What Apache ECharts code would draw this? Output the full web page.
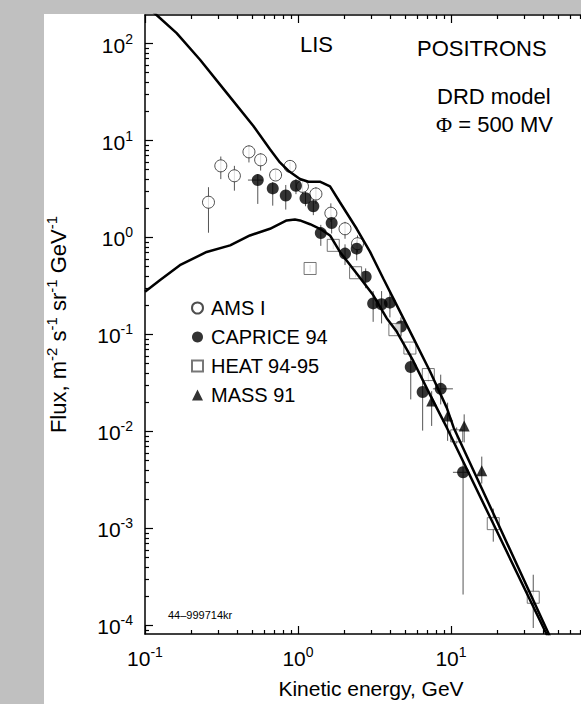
<!DOCTYPE html>
<html>
<head>
<meta charset="utf-8">
<title>Positrons, LIS, DRD model</title>
<script src="https://cdn.jsdelivr.net/npm/echarts@6/dist/echarts.min.js"></script>
<style>
html, body { margin: 0; padding: 0; background: #c0c0c0; }
#chart { width: 581px; height: 704px; }
</style>
</head>
<body>
<div id="chart"></div>
<script>
// energies in GeV, flux in m^-2 s^-1 sr^-1 GeV^-1

// model curves
const lisE = [0.100, 0.119, 0.161, 0.229, 0.342, 0.511, 0.656, 0.762, 0.865, 1.03, 1.17, 1.39, 1.62, 1.88, 2.42, 2.96, 3.61, 4.42, 5.68, 7.29, 9.38, 10.4, 19.4, 43.3, 56.2]
const lisFlux = [253, 197, 128, 68.1, 31.0, 14.1, 8.13, 5.94, 4.88, 4.01, 3.76, 3.76, 3.36, 2.31, 1.23, 0.710, 0.378, 0.201, 0.0918, 0.0418, 0.0176, 0.0110, 0.00131, 8.34e-5, 3.38e-5]
const modE = [0.100, 0.125, 0.169, 0.253, 0.360, 0.485, 0.656, 0.843, 0.955, 1.03, 1.20, 1.39, 1.62, 1.88, 2.42, 3.10, 3.80, 4.42, 5.68, 7.29, 9.38, 18.0, 41.8, 56.2]
const modFlux = [0.276, 0.363, 0.518, 0.710, 0.830, 1.05, 1.23, 1.50, 1.53, 1.50, 1.37, 1.23, 1.05, 0.710, 0.426, 0.255, 0.147, 0.107, 0.0530, 0.0240, 0.0110, 0.00131, 8.34e-5, 3.16e-5]

// AMS I
const amsE = [0.26, 0.313, 0.384, 0.478, 0.570, 0.714, 0.887, 1.07, 1.31, 1.64, 2.03, 2.45]
const amsFlux = [2.31, 5.48, 4.33, 7.64, 6.32, 4.41, 5.41, 3.37, 2.81, 1.78, 1.23, 0.863]
const amsLo = [1.12, 4.0, 3.04, 5.94, 4.9, 3.9, 4.9, 2.81, 2.22, 1.45, 0.97, 0.70]
const amsHi = [3.3, 6.84, 5.48, 8.9, 7.4, 5.0, 6.0, 3.9, 3.3, 2.25, 1.45, 1.05]

// CAPRICE 94
const capE = [0.546, 0.684, 0.832, 0.970, 1.12, 1.26, 1.41, 1.66, 2.03, 2.42, 2.77, 3.10, 3.52, 3.99, 4.71, 5.46, 6.53, 8.57, 12.0]
const capFlux = [3.91, 3.21, 2.71, 3.42, 2.54, 2.10, 1.11, 1.41, 0.682, 0.767, 0.394, 0.209, 0.205, 0.213, 0.121, 0.0462, 0.0255, 0.0275, 0.00379]
const capLo = [2.22, 2.13, 1.94, 2.8, 2.1, 1.7, 0.82, 1.1, 0.52, 0.58, 0.30, 0.135, 0.13, 0.15, 0.095, 0.0214, 0.0102, 0.019, 2.08e-4]
const capHi = [4.5, 3.73, 3.48, 4.0, 3.0, 2.5, 1.35, 1.7, 0.85, 0.95, 0.48, 0.28, 0.28, 0.28, 0.15, 0.065, 0.034, 0.0385, 0.0050]
const capELo = [0.471, null, null, null, null, null, null, null, null, null, null, null, null, null, null, null, null, 7.62, 10.3]
const capEHi = [0.590, null, null, null, null, null, null, null, null, null, null, null, null, null, null, null, null, 10.3, 13.3]

// HEAT 94-95
const heatE = [1.20, 1.70, 2.38, 4.30, 5.39, 7.11, 10.9, 18.9, 34.5]
const heatFlux = [0.479, 0.830, 0.433, 0.112, 0.0724, 0.0386, 0.00901, 0.00112, 1.95e-4]
const heatLo = [0.44, 0.76, 0.39, 0.10, 0.065, 0.033, 0.0075, 7.3e-4, 9.4e-5]
const heatHi = [0.52, 0.90, 0.48, 0.125, 0.080, 0.045, 0.011, 1.6e-3, 3.33e-4]

// MASS 91
const massE = [7.48, 9.51, 12.2, 15.9]
const massFlux = [0.0206, 0.0144, 0.0114, 0.00394]
const massLo = [0.0114, 0.0080, 0.0077, 0.0029]
const massHi = [0.026, 0.0198, 0.015, 0.0055]

// axes (the frame is cut by the right edge of the picture, near 70 GeV)
const eMin = 0.1, eMax = 70.8
const fluxMin = 8.15e-5, fluxMax = 197
const xTickExp = [-1, 0, 1]
const yTickExp = [-4, -3, -2, -1, 0, 1, 2]

const lg = v => Math.log10(v)
const FONT = '"Liberation Sans", Arial, Helvetica, sans-serif'

function pairs (xs, ys) {
  return xs.map((x, i) => [lg(x), lg(ys[i])])
}

function minorTicks (lo, hi) {
  const out = []
  for (let d = Math.floor(lo); d <= Math.ceil(hi); d++) {
    for (let k = 2; k <= 9; k++) {
      const v = d + Math.log10(k)
      if (v > lo && v < hi) out.push(v)
    }
  }
  return out
}

const xLo = lg(eMin), xHi = lg(eMax)
const yLo = lg(fluxMin), yHi = lg(fluxMax)

const tickRich = {
  b: { fontSize: 21, fontFamily: FONT, color: '#000', lineHeight: 24, verticalAlign: 'bottom' },
  s: { fontSize: 14, fontFamily: FONT, color: '#000', lineHeight: 11, verticalAlign: 'top' }
}
const nameRich = {
  b: { fontSize: 22, fontFamily: FONT, color: '#000', lineHeight: 25, verticalAlign: 'bottom' },
  s: { fontSize: 15, fontFamily: FONT, color: '#000', lineHeight: 12, verticalAlign: 'top' }
}
const powLabel = v => '{b|10}{s|' + Math.round(v) + '}'

const black = { color: '#000', width: 1.5 }
const tickLine = { color: '#000', width: 1.2 }

function axis (dim, pos, major, opts) {
  const a = {
    type: 'value',
    position: pos,
    min: dim === 'x' ? xLo : yLo,
    max: dim === 'x' ? xHi : yHi,
    splitLine: { show: false },
    axisLine: { show: major, onZero: false, lineStyle: black },
    axisTick: {
      show: true,
      inside: true,
      length: major ? 8 : 4,
      lineStyle: tickLine,
      customValues: major
        ? (dim === 'x' ? xTickExp : yTickExp)
        : minorTicks(dim === 'x' ? xLo : yLo, dim === 'x' ? xHi : yHi)
    },
    axisLabel: { show: false }
  }
  return Object.assign(a, opts || {})
}

function errorBars (E, F, lo, hi, eLo, eHi) {
  return {
    type: 'custom',
    silent: true,
    z: 3,
    data: E.map((e, i) => [lg(e), lg(lo[i]), lg(hi[i]), lg(F[i])]),
    encode: { x: 0, y: [1, 2] },
    renderItem: function (params, api) {
      const i = params.dataIndex
      const x = api.value(0)
      const p1 = api.coord([x, api.value(1)])
      const p2 = api.coord([x, api.value(2)])
      const kids = [{
        type: 'line',
        shape: { x1: p1[0], y1: p1[1], x2: p2[0], y2: p2[1] },
        style: { stroke: '#555', lineWidth: 1 }
      }]
      if (eLo && eLo[i] != null) {
        const h1 = api.coord([lg(eLo[i]), api.value(3)])
        const h2 = api.coord([lg(eHi[i]), api.value(3)])
        kids.push({
          type: 'line',
          shape: { x1: h1[0], y1: h1[1], x2: h2[0], y2: h2[1] },
          style: { stroke: '#555', lineWidth: 1 }
        })
      }
      return { type: 'group', children: kids }
    }
  }
}

function curve (E, F) {
  return {
    type: 'line',
    data: pairs(E, F),
    symbol: 'none',
    silent: true,
    clip: true,
    z: 6,
    lineStyle: { color: '#000', width: 2.5 }
  }
}

function points (name, E, F, symbol, size, style) {
  return {
    type: 'scatter',
    name: name,
    data: pairs(E, F),
    symbol: symbol,
    symbolSize: size,
    itemStyle: style,
    silent: true,
    z: 5
  }
}

const chart = echarts.init(document.getElementById('chart'), null, { renderer: 'svg' })

const option = {
  animation: false,
  backgroundColor: '#c0c0c0',
  textStyle: { fontFamily: FONT },
  grid: { left: 145, right: 0, top: 15, bottom: 66, containLabel: false },
  xAxis: [
    axis('x', 'bottom', true, {
      axisLabel: { show: true, customValues: xTickExp, formatter: powLabel, rich: tickRich, margin: 11 },
      name: 'Kinetic energy, GeV',
      nameLocation: 'middle',
      nameGap: 44,
      nameTextStyle: { fontSize: 21, fontFamily: FONT, color: '#000', padding: [0, 0, 0, 16] }
    }),
    axis('x', 'bottom', false),
    axis('x', 'top', true),
    axis('x', 'top', false)
  ],
  yAxis: [
    axis('y', 'left', true, {
      axisLabel: { show: true, customValues: yTickExp, formatter: powLabel, rich: tickRich, margin: 12 },
      name: '{b|Flux, m}{s|-2}{b| s}{s|-1}{b| sr}{s|-1}{b| GeV}{s|-1}',
      nameLocation: 'middle',
      nameGap: 76,
      nameTextStyle: { fontSize: 22, fontFamily: FONT, color: '#000', rich: nameRich }
    }),
    axis('y', 'left', false)
  ],
  legend: {
    data: ['AMS I', 'CAPRICE 94', 'HEAT 94-95', 'MASS 91'],
    orient: 'vertical',
    left: 191,
    top: 298,
    padding: 0,
    itemWidth: 11,
    itemHeight: 11,
    itemGap: 9,
    selectedMode: false,
    textStyle: { fontSize: 20, fontFamily: FONT, color: '#000', lineHeight: 20, padding: [0, 0, 0, 3] }
  },
  graphic: [
    { type: 'rect', z: -100, silent: true, shape: { x: 44, y: 14, width: 600, height: 700 }, style: { fill: '#fff' } },
    { type: 'text', x: 300, y: 44, silent: true, style: { text: 'LIS', fontSize: 22, fontFamily: FONT, fill: '#000', align: 'left', verticalAlign: 'middle' } },
    { type: 'text', x: 417, y: 48, silent: true, style: { text: 'POSITRONS', fontSize: 22, fontFamily: FONT, fill: '#000', align: 'left', verticalAlign: 'middle' } },
    { type: 'text', x: 437, y: 96, silent: true, style: { text: 'DRD model', fontSize: 22, fontFamily: FONT, fill: '#000', align: 'left', verticalAlign: 'middle' } },
    {
      type: 'text', x: 436, y: 124, silent: true,
      style: {
        text: '{p|Φ} = 500 MV', fontSize: 22, fontFamily: FONT, fill: '#000', align: 'left', verticalAlign: 'middle',
        rich: { p: { fontSize: 22, fontFamily: '"Liberation Serif", "Times New Roman", serif', fill: '#000' } }
      }
    },
    { type: 'text', x: 168, y: 615, silent: true, style: { text: '44–999714kr', fontSize: 11, fontFamily: FONT, fill: '#000', align: 'left', verticalAlign: 'middle' } }
  ],
  series: [
    errorBars(amsE, amsFlux, amsLo, amsHi),
    errorBars(capE, capFlux, capLo, capHi, capELo, capEHi),
    errorBars(heatE, heatFlux, heatLo, heatHi),
    errorBars(massE, massFlux, massLo, massHi),
    curve(lisE, lisFlux),
    curve(modE, modFlux),
    points('AMS I', amsE, amsFlux, 'circle', 12, { color: '#fff', borderColor: '#222', borderWidth: 1 }),
    points('CAPRICE 94', capE, capFlux, 'circle', 12, { color: '#000' }),
    points('HEAT 94-95', heatE, heatFlux, 'rect', 12, { color: '#fff', borderColor: '#555', borderWidth: 1 }),
    points('MASS 91', massE, massFlux, 'triangle', 11, { color: '#000' })
  ]
}

chart.setOption(option)
</script>
</body>
</html>
